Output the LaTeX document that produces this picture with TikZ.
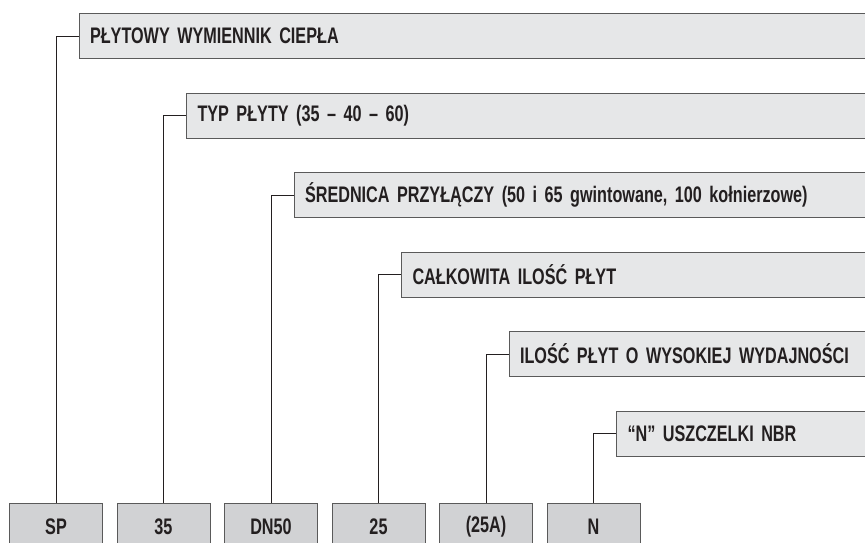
\documentclass[tikz,border=0pt]{standalone}
\usepackage{fontspec}
\setmainfont{Liberation Sans}[FakeStretch=0.72]
\definecolor{boxline}{HTML}{5A5A5A}
\definecolor{labfill}{HTML}{E6E7E8}
\definecolor{codefill}{HTML}{D1D2D4}
\definecolor{ink}{HTML}{231F20}

\begin{document}
\begin{tikzpicture}[x=1pt,y=-1pt,
    lab/.style={draw=boxline,fill=labfill,line width=1pt,anchor=north west,
      minimum height=45pt,inner xsep=11pt,align=left,
      font=\fontsize{22.5}{24}\selectfont\bfseries,text=ink},
    code/.style={draw=boxline,fill=codefill,line width=1pt,anchor=north,
      minimum width=93pt,minimum height=46pt,
      font=\fontsize{22.5}{24}\selectfont\bfseries,text=ink},
    wire/.style={draw=ink,line width=.9pt}]
  \useasboundingbox (0,0) rectangle (865,542);
  % label boxes
  \node[lab,text width=765pt] (Lsp) at (78.5,13) {PŁYTOWY WYMIENNIK CIEPŁA};
  \node[lab,text width=657pt] (Ltyp) at (186,92.5) {TYP PŁYTY (35 – 40 – 60)};
  \node[lab,text width=550pt] (Ldn) at (293.5,172) {ŚREDNICA PRZYŁĄCZY (50 i 65 gwintowane, 100 kołnierzowe)};
  \node[lab,text width=442pt] (Lilosc) at (401,251.5) {CAŁKOWITA ILOŚĆ PŁYT};
  \node[lab,text width=335pt] (Lwyd) at (508.5,331) {ILOŚĆ PŁYT O WYSOKIEJ WYDAJNOŚCI};
  \node[lab,text width=227pt] (Lnbr) at (616,410.5) {“N” USZCZELKI NBR};
  % code boxes
  \node[code] (SP) at (56,503) {SP};
  \node[code] (T35) at (163.5,503) {35};
  \node[code] (DN) at (271,503) {DN50};
  \node[code] (P25) at (378.5,503) {25};
  \node[code] (A25) at (486,503) {(25A)};
  \node[code] (N) at (593.5,503) {N};
  % connectors
  \draw[wire] (SP.north) |- (Lsp.west);
  \draw[wire] (T35.north) |- (Ltyp.west);
  \draw[wire] (DN.north) |- (Ldn.west);
  \draw[wire] (P25.north) |- (Lilosc.west);
  \draw[wire] (A25.north) |- (Lwyd.west);
  \draw[wire] (N.north) |- (Lnbr.west);
\end{tikzpicture}
\end{document}
